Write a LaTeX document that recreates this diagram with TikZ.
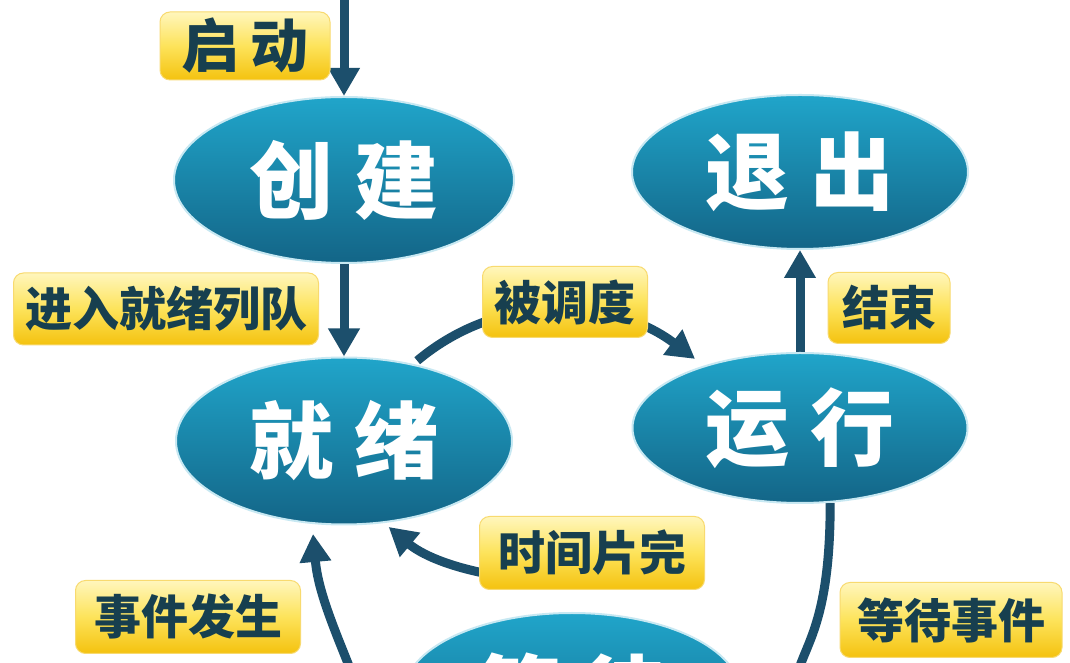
\documentclass[tikz,border=0pt]{standalone}
\usepackage{fontspec}
\newfontfamily\cjk{Noto Sans CJK SC}
\usetikzlibrary{arrows.meta,shapes.geometric,backgrounds,calc}
\definecolor{arrowc}{HTML}{1C4F6C}
\definecolor{labtxt}{HTML}{173F4F}
\definecolor{labtop}{HTML}{FFF6BC}
\definecolor{labmid}{HTML}{FDE35A}
\definecolor{labbot}{HTML}{F4C20F}
\definecolor{elltop}{HTML}{20A5CA}
\definecolor{ellbot}{HTML}{136587}
\begin{document}
\begin{tikzpicture}[x=1pt,y=1pt,
  state/.style={ellipse, inner sep=0pt, top color=elltop, bottom color=ellbot,
    draw=elltop!25!white, line width=2pt, text=white,
    font=\cjk\bfseries\fontsize{84}{90}\selectfont},
  lab/.style={rounded corners=10pt, inner sep=0pt, top color=labtop, bottom color=labbot,
    middle color=labmid, draw=labbot!60!white, line width=1pt, text=labtxt,
    font=\cjk\bfseries\fontsize{47}{50}\selectfont},
  flow/.style={draw=arrowc, line width=9pt, -{Triangle[width=30pt,length=28pt]}},
]
\useasboundingbox (0,0) rectangle (1070,663);
\clip (0,0) rectangle (1070,663);

% states
\node[state, minimum width=340pt, minimum height=166pt] (cj) at (344,483) {创\hspace{21pt}建};
\node[state, minimum width=336pt, minimum height=154pt] (tc) at (800,491) {退\hspace{21pt}出};
\node[state, minimum width=336pt, minimum height=167pt] (jx) at (344,222) {就\hspace{21pt}绪};
\node[state, minimum width=335pt, minimum height=150pt] (yx) at (800,235) {运\hspace{21pt}行};
\node[state, minimum width=336pt, minimum height=160pt] (dd) at (572,-30) {等\hspace{21pt}待};

% labels
\node[lab, minimum width=170pt, minimum height=68pt, font=\cjk\bfseries\fontsize{58}{62}\selectfont] (qd) at (245,617) {启\hspace{12pt}动};
\node[lab, minimum width=305pt, minimum height=72pt] (jr) at (166,354) {进入就绪列队};
\node[lab, minimum width=165pt, minimum height=71pt] (bdd) at (565,361) {被调度};
\node[lab, minimum width=122pt, minimum height=71pt] (js) at (889,355) {结束};
\node[lab, minimum width=225pt, minimum height=73pt] (sj) at (592,110) {时间片完};
\node[lab, minimum width=225pt, minimum height=73pt] (sf) at (188,46) {事件发生};
\node[lab, minimum width=222pt, minimum height=75pt] (dsj) at (951,43) {等待事件};

\coordinate (start) at (344,680);
\coordinate (sfs) at (360,-30);
\coordinate (dse) at (790,-40);

\begin{scope}[on background layer]
\fill[white] (0,0) rectangle (1070,663);
\draw[flow] (start) -- (cj.north);
\draw[flow] (cj.south) -- (jx.north);
\draw[flow] (yx.north) -- (tc.south);
\draw[flow, shorten <=5pt, shorten >=11pt] (jx.48) to[out=40,in=143] (yx.147);
\draw[flow, shorten >=6pt] ($(sj.west)+(15,-22)$) to[out=170,in=-40] (jx.-64);
\draw[flow, shorten >=10pt] (sfs) to[out=112,in=-85] (jx.249);
\draw[flow] (yx.-68) .. controls +(0,-120) and +(15,60) .. (dse);
\end{scope}
\end{tikzpicture}
\end{document}
